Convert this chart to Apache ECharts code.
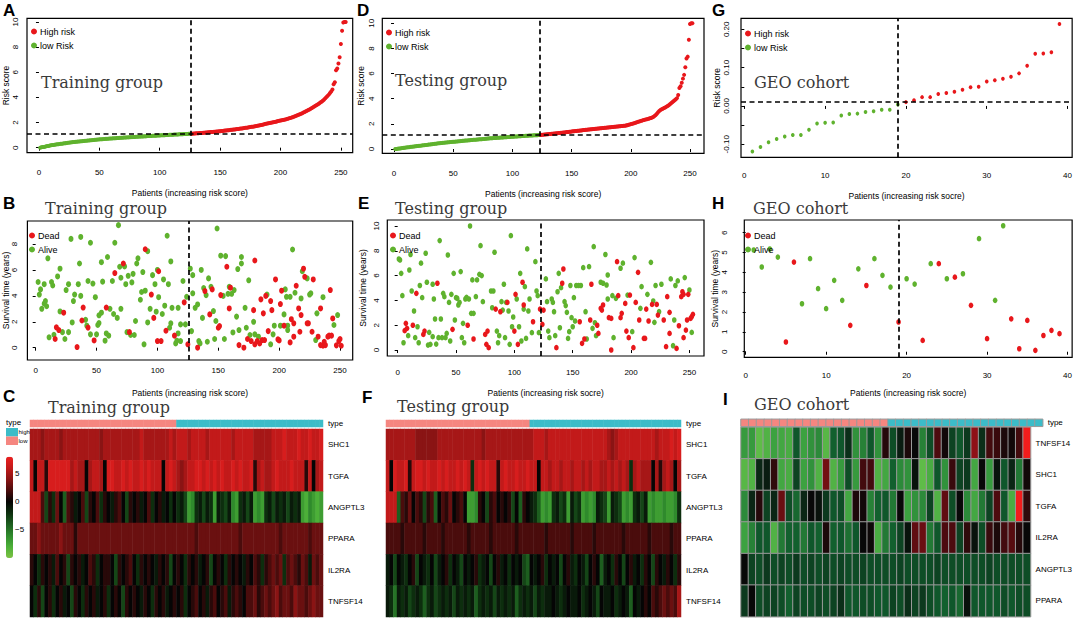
<!DOCTYPE html>
<html>
<head>
<meta charset="utf-8">
<title>Risk score, survival and expression heatmaps</title>
<script src="https://cdn.jsdelivr.net/npm/echarts@6/dist/echarts.min.js"></script>
<style>
html, body { margin: 0; padding: 0; background: #fff; }
#main { width: 1075px; height: 619px; }
</style>
</head>
<body>
<div id="main"></div>
<script>
// risk scores, sorted (training 254 pts, testing 252 pts, GEO 39 pts)
var trainRisk = [
    0.00,0.03,0.05,0.06,0.08,0.11,0.13,0.14,0.17,0.19,
    0.21,0.22,0.24,0.25,0.27,0.28,0.30,0.31,0.32,0.34,
    0.35,0.36,0.37,0.39,0.40,0.41,0.43,0.44,0.45,0.46,
    0.47,0.48,0.49,0.50,0.51,0.52,0.53,0.54,0.55,0.56,
    0.57,0.58,0.59,0.60,0.61,0.62,0.63,0.64,0.65,0.66,
    0.67,0.67,0.68,0.69,0.70,0.70,0.71,0.72,0.73,0.73,
    0.74,0.75,0.75,0.76,0.77,0.77,0.78,0.79,0.79,0.80,
    0.81,0.81,0.82,0.82,0.83,0.84,0.84,0.85,0.85,0.86,
    0.87,0.87,0.88,0.88,0.89,0.89,0.90,0.90,0.91,0.92,
    0.92,0.93,0.93,0.94,0.94,0.95,0.95,0.96,0.97,0.97,
    0.98,0.98,0.99,0.99,1.00,1.01,1.01,1.02,1.02,1.03,
    1.03,1.04,1.04,1.05,1.05,1.06,1.06,1.07,1.07,1.08,
    1.08,1.09,1.09,1.10,1.10,1.11,1.11,
    1.12,1.13,1.14,1.14,1.15,1.16,1.17,1.17,1.18,1.19,
    1.20,1.21,1.22,1.23,1.24,1.25,1.25,1.26,1.27,1.28,
    1.29,1.30,1.31,1.32,1.33,1.35,1.36,1.37,1.38,1.39,
    1.40,1.42,1.43,1.44,1.45,1.47,1.48,1.49,1.51,1.52,
    1.53,1.55,1.56,1.58,1.59,1.61,1.62,1.64,1.66,1.67,
    1.69,1.71,1.73,1.75,1.77,1.79,1.81,1.83,1.85,1.88,
    1.90,1.92,1.94,1.96,1.98,2.00,2.02,2.04,2.07,2.09,
    2.12,2.14,2.16,2.18,2.20,2.22,2.24,2.27,2.30,2.33,
    2.36,2.39,2.42,2.46,2.50,2.54,2.58,2.62,2.66,2.70,
    2.74,2.79,2.84,2.89,2.94,2.99,3.04,3.10,3.16,3.22,
    3.28,3.34,3.40,3.46,3.52,3.59,3.66,3.74,3.82,3.92,
    4.02,4.12,4.22,4.34,4.46,4.62,5.05,5.20,6.15,6.30,
    6.70,7.20,8.25,9.30,9.95,10.0,10.0
];
var trainLow = 126;
var trainCut = 1.08;

var testRisk = [
    0.00,0.01,0.03,0.04,0.05,0.07,0.08,0.09,0.10,0.12,
    0.13,0.14,0.15,0.17,0.18,0.19,0.20,0.22,0.23,0.24,
    0.25,0.26,0.27,0.29,0.30,0.31,0.32,0.33,0.35,0.36,
    0.37,0.38,0.40,0.41,0.42,0.43,0.45,0.46,0.47,0.48,
    0.49,0.50,0.51,0.52,0.53,0.54,0.55,0.56,0.57,0.58,
    0.58,0.59,0.60,0.61,0.62,0.63,0.64,0.65,0.66,0.67,
    0.68,0.68,0.69,0.70,0.71,0.72,0.73,0.73,0.74,0.75,
    0.76,0.77,0.78,0.78,0.79,0.80,0.81,0.82,0.83,0.84,
    0.85,0.85,0.86,0.87,0.87,0.88,0.89,0.89,0.90,0.91,
    0.91,0.92,0.93,0.93,0.94,0.95,0.96,0.96,0.97,0.98,
    0.98,0.99,1.00,1.00,1.01,1.02,1.02,1.03,1.04,1.04,
    1.05,1.05,1.06,1.07,1.07,1.08,1.08,1.09,1.09,1.10,
    1.10,1.11,1.11,
    1.12,1.13,1.14,1.15,1.16,1.17,1.18,1.19,1.20,1.21,
    1.22,1.23,1.24,1.25,1.26,1.27,1.28,1.29,1.30,1.31,
    1.32,1.34,1.35,1.36,1.37,1.38,1.40,1.41,1.42,1.43,
    1.44,1.45,1.46,1.47,1.48,1.49,1.51,1.52,1.53,1.54,
    1.55,1.56,1.57,1.58,1.59,1.60,1.61,1.62,1.63,1.64,
    1.65,1.66,1.67,1.68,1.69,1.70,1.71,1.72,1.73,1.74,
    1.75,1.76,1.77,1.78,1.79,1.80,1.81,1.82,1.83,1.84,
    1.85,1.86,1.88,1.90,1.92,1.95,1.98,2.00,2.03,2.06,
    2.09,2.13,2.16,2.19,2.22,2.25,2.28,2.31,2.34,2.36,
    2.38,2.41,2.44,2.47,2.50,2.55,2.62,2.70,2.80,2.92,
    3.02,3.10,3.16,3.21,3.26,3.31,3.36,3.42,3.48,3.56,
    3.64,3.72,3.80,3.88,3.96,4.05,4.30,4.85,5.00,5.28,
    5.60,5.90,6.50,7.20,7.35,8.70,9.95,10.0,10.0
];
var testLow = 123;
var testCut = 1.11;

var geoRisk = [
    -0.119,-0.107,-0.095,-0.086,-0.080,-0.076,-0.076,-0.062,-0.046,-0.044,
    -0.043,-0.025,-0.021,-0.020,-0.016,-0.014,-0.010,-0.010,0.004,0.010,
    0.015,0.023,0.023,0.031,0.034,0.037,0.042,0.049,0.050,0.064,
    0.067,0.071,0.076,0.085,0.105,0.136,0.137,0.140,0.214
];
var geoLow = 19;
var geoCut = 0.01;

// survival time (years) as [patient rank, time]
var trainDead = [[16,0.67],[17,1.57],[19,1.36],[23,2.7],[34,0.05],[38,2.1],[39,3.1],[43,1.55],[48,0.56],[58,3.1],[65,5.76],[72,6.5],[77,1.2],[90,7.6],[95,4.1],[97,2.3],[100,0.51],[101,5.9],[103,0.51],[107,1.31],[114,0.93],[122,3.5],[125,0.26],[133,0.0],[139,4.37],[143,2.57],[145,4.5],[150,1.54],[151,1.67],[152,4.06],[157,6.25],[159,3.03],[160,4.63],[167,0.2],[171,0.0],[174,0.67],[177,0.51],[179,2.9],[180,0.26],[180,6.73],[182,0.51],[184,0.33],[185,3.73],[186,0.59],[187,2.65],[188,0.59],[189,4.0],[191,1.28],[193,3.6],[194,2.9],[197,5.27],[199,0.64],[200,0.56],[201,3.37],[202,4.4],[204,1.7],[209,0.41],[210,2.2],[212,1.88],[212,0.85],[214,4.78],[216,3.03],[217,1.23],[218,2.52],[220,6.1],[221,5.47],[223,1.88],[224,1.88],[227,1.23],[228,5.27],[232,0.85],[234,3.03],[234,0.2],[236,0.15],[237,0.46],[238,0.2],[240,0.85],[241,0.93],[242,4.45],[243,0.93],[244,2.26],[247,0.18],[249,0.51],[250,0.67],[251,0.15]];
var trainAlive = [[2,5.07],[3,4.1],[4,4.5],[5,3.0],[7,4.9],[7,3.4],[8,3.6],[9,3.2],[10,6.9],[11,0.8],[13,5.07],[14,4.8],[15,1.0],[18,5.5],[20,6.1],[20,2.8],[22,1.2],[24,0.67],[25,4.45],[27,4.9],[27,1.2],[29,8.4],[30,1.95],[31,3.6],[32,4.1],[35,4.9],[36,6.5],[37,8.55],[37,4.0],[41,2.15],[42,1.7],[43,5.15],[45,8.1],[45,1.03],[47,4.95],[49,3.9],[50,1.03],[51,1.75],[52,1.9],[52,2.5],[54,2.7],[54,6.6],[55,5.1],[57,0.54],[58,1.1],[59,7.0],[60,0.93],[61,3.0],[63,5.15],[64,2.6],[65,8.1],[67,2.3],[68,9.46],[69,6.25],[70,5.4],[70,3.0],[73,6.27],[74,4.9],[75,1.2],[76,5.55],[78,0.98],[79,5.04],[80,5.7],[81,0.98],[82,2.06],[83,6.5],[84,6.9],[86,3.7],[87,4.3],[88,5.84],[89,0.26],[90,4.4],[92,7.45],[92,1.95],[94,3.0],[96,5.6],[98,4.9],[99,2.78],[100,6.0],[101,3.9],[104,2.6],[105,5.27],[106,3.24],[108,8.64],[109,4.9],[110,1.54],[111,1.88],[111,6.66],[112,3.08],[115,0.33],[116,0.54],[117,3.08],[117,1.1],[119,1.8],[119,0.51],[121,5.15],[123,1.8],[124,3.93],[127,6.1],[128,1.28],[129,4.2],[129,5.6],[131,3.08],[133,3.34],[134,0.51],[135,0.33],[136,6.0],[137,2.3],[138,4.6],[140,4.06],[141,0.46],[142,5.35],[144,4.7],[146,2.83],[147,0.67],[148,2.06],[149,9.2],[152,7.1],[154,4.0],[155,0.67],[156,7.07],[158,4.16],[159,4.7],[161,4.16],[162,1.18],[163,4.45],[165,2.4],[166,6.07],[167,1.36],[169,7.0],[169,6.5],[172,3.08],[173,1.54],[175,5.2],[176,0.98],[179,2.0],[180,1.03],[183,0.85],[190,4.1],[193,0.26],[195,1.03],[196,1.7],[201,1.7],[204,2.57],[205,4.5],[206,3.93],[207,1.7],[207,1.36],[209,3.93],[211,7.58],[213,4.24],[218,3.8],[219,5.9],[223,5.35],[225,4.1],[226,4.2],[230,0.59],[231,2.65],[236,3.9],[245,1.75],[248,2.52]];

var testDead = [[6,1.56],[7,2.15],[8,1.75],[13,2.0],[16,4.57],[22,1.26],[23,1.53],[34,5.38],[47,1.67],[60,2.0],[65,0.89],[75,1.26],[76,0.46],[77,1.53],[78,0.19],[84,3.3],[88,3.09],[94,3.84],[100,1.53],[101,4.49],[103,0.46],[107,5.46],[108,3.63],[116,2.28],[122,3.3],[124,2.07],[125,3.22],[136,0.19],[141,5.38],[142,6.53],[156,2.28],[158,0.54],[160,0.89],[165,2.42],[166,5.3],[171,2.0],[172,1.34],[174,3.36],[175,3.22],[176,3.63],[181,2.61],[183,0.0],[183,2.55],[188,7.12],[189,4.38],[191,2.61],[192,2.96],[195,3.76],[196,1.53],[198,1.0],[199,4.43],[202,0.19],[204,3.84],[206,6.26],[207,2.42],[211,0.94],[212,0.94],[213,3.3],[215,2.34],[218,3.68],[222,3.68],[223,2.82],[228,2.42],[230,0.27],[231,4.3],[233,1.34],[233,3.04],[239,0.13],[241,1.96],[243,4.3],[244,4.7],[245,4.49],[245,1.0],[247,1.61],[248,2.42],[249,4.49],[251,2.55],[252,2.69],[253,2.88]];
var testAlive = [[1,7.34],[2,7.26],[3,6.18],[4,4.38],[5,0.59],[9,1.16],[10,6.45],[11,7.7],[12,4.76],[14,3.15],[15,1.0],[17,1.88],[18,0.59],[19,5.2],[20,7.0],[21,4.22],[24,7.8],[25,5.46],[26,0.4],[27,1.42],[28,0.46],[30,5.3],[30,1.08],[31,4.11],[32,2.5],[33,0.48],[35,1.0],[36,8.82],[37,2.5],[38,1.0],[39,4.57],[40,4.3],[41,1.0],[42,1.34],[43,7.66],[44,3.84],[45,0.73],[46,4.49],[48,6.18],[49,2.42],[50,4.22],[51,4.17],[52,3.63],[53,3.84],[54,6.32],[55,1.0],[56,2.15],[57,0.59],[58,4.11],[59,4.25],[61,4.11],[62,10.0],[63,2.96],[64,5.65],[65,2.96],[67,4.3],[68,5.65],[70,6.1],[71,8.41],[72,6.0],[73,3.9],[80,4.76],[81,3.41],[82,4.76],[83,7.88],[85,1.53],[86,0.59],[87,1.16],[89,3.9],[90,3.22],[91,5.3],[92,1.0],[93,3.84],[95,3.15],[96,0.46],[97,9.22],[98,1.88],[99,2.66],[102,4.11],[104,1.88],[105,6.18],[106,0.73],[108,3.3],[109,5.11],[110,0.94],[111,8.15],[112,3.15],[113,4.11],[115,1.4],[118,7.12],[119,4.76],[120,4.38],[121,1.4],[127,5.73],[128,3.9],[129,1.53],[130,1.0],[132,4.11],[133,3.84],[134,3.09],[135,1.16],[137,4.7],[138,6.18],[139,1.8],[140,5.03],[143,3.9],[144,3.58],[145,3.04],[146,0.94],[147,1.48],[148,5.2],[149,2.61],[150,1.88],[151,4.22],[152,2.34],[153,5.2],[155,5.2],[157,5.2],[159,6.64],[161,3.09],[162,0.89],[164,6.72],[167,1.75],[168,8.33],[169,2.2],[170,1.16],[174,5.46],[176,5.38],[178,7.7],[179,5.24],[180,4.11],[180,6.05],[184,4.38],[185,1.0],[187,4.17],[191,6.59],[193,7.0],[197,4.43],[201,1.48],[203,7.45],[208,3.36],[209,5.11],[214,4.49],[217,7.07],[219,3.95],[220,2.23],[221,5.2],[224,3.09],[226,5.3],[234,5.73],[236,0.35],[237,2.42],[238,5.2],[240,5.57],[246,5.84],[250,4.84],[252,1.42]];

var geoTime = [5.13,4.27,5.18,4.77,0.49,4.52,2.42,4.69,3.18,2.17,3.60,2.59,1.33,4.18,3.34,4.69,3.85,3.26,1.50,3.68,3.41,0.57,4.44,4.44,3.68,3.76,3.93,2.34,5.70,0.66,2.59,6.35,1.66,0.15,1.58,0.07,0.82,1.08,0.91];
var geoStatus = [0,0,0,0,1,1,0,0,0,0,0,0,1,0,1,0,0,0,1,0,0,1,0,1,0,1,0,1,0,1,0,0,1,1,1,1,1,1,1];

// expression, 80 column groups of patients (training / testing)
var trainGenes = ['SHC1', 'TGFA', 'ANGPTL3', 'PPARA', 'IL2RA', 'TNFSF14'];
var trainSHC1 = [5,5,5,4,5,5,5,5,4,5, 5,5,5,5,5,5,5,5,5,4, 5,5,5,5,5,5,5,5,5,5, 6,5,5,5,5,5,5,5,6,5, 6,6,6,5,6,6,6,6,5,6, 6,6,6,6,6,5,6,6,6,6, 6,5,5,5,5,5,6,6,6,7, 6,6,6,7,6,6,7,6,6,7];
var trainTGFA = [6,0,6,6,1,7,7,7,7,7, 7,5,6,5,5,0,5,6,6,5, 0,7,7,6,6,7,6,7,6,6, 7,6,7,6,6,6,0,6,7,6, 5,4,5,6,6,7,7,6,7,6, 7,6,7,6,6,7,6,7,6,6, 7,1,5,6,5,5,6,7,6,6, 6,7,6,6,6,1,6,0,5,6];
var trainANGPTL3 = [6,6,6,2,-3,1,-2,3,0,-4, 2,1,-1,0,2,-3,1,0,2,-2, 1,0,-1,1,2,0,-3,1,0,1, -1,0,2,-2,0,1,-1,0,-2,0, -2,-1,-3,-7,-6,-2,-1,-3,-1,-2, -7,-1,-2,-3,-1,-6,-7,-2,-1,-3, -1,-7,-6,-7,-2,-1,-3,-1,-2,-1, -3,-1,-2,-1,-7,-8,-6,-7,-8,-7];
var trainPPARA = [3,3,4,3,3,3,3,3,4,3, 3,3,1,3,3,3,3,3,3,3, 3,3,3,3,3,3,3,3,3,3, 3,3,3,3,3,3,3,3,3,3, 3,3,3,3,3,2,3,3,3,3, 3,3,3,3,3,3,3,2,3,3, 3,3,3,3,3,3,3,3,2,3, 3,3,3,3,3,3,2,3,3,3];
var trainIL2RA = [1,0,-2,1,0,1,-1,2,0,1, -3,1,0,1,-1,0,2,1,-2,0, 1,1,0,-3,1,0,1,2,0,-2, 1,0,1,0,-1,1,0,1,-3,0, 1,0,-2,1,0,1,-1,0,1,-3, 0,1,0,-2,1,0,1,0,-1,1, 0,2,1,-2,1,2,3,2,3,-2, 2,3,2,1,3,2,-1,3,2,3];
var trainTNFSF14 = [0,-2,1,-3,0,1,-2,0,1,-1, 0,-3,1,0,-2,1,0,1,-1,0, 1,-2,0,1,0,-3,1,0,1,0, -1,1,0,-2,1,0,1,-1,0,1, 0,1,-2,0,1,2,0,1,-1,1, 2,0,1,2,-1,1,2,1,0,2, 2,3,1,2,3,2,3,4,2,3, 3,2,4,3,3,2,3,4,3,3];

var testSHC1 = [5,5,5,5,5,5,5,5,4,4, 4,4,4,4,5,5,5,5,5,5, 5,5,5,5,5,5,4,5,5,5, 5,5,5,5,5,5,5,5,5,5, 6,6,6,5,6,6,6,6,6,6, 6,6,6,6,6,6,6,6,6,6, 5,4,5,6,6,6,6,6,6,6, 6,6,6,5,6,6,6,7,6,7];
var testTGFA = [6,0,7,6,6,7,1,6,7,7, 6,7,6,6,7,6,7,6,6,7, 6,7,6,-2,6,7,6,7,6,6, 1,6,7,6,6,7,6,6,7,6, 6,0,6,6,5,6,6,5,6,6, 5,6,6,5,6,5,6,6,5,5, 6,5,6,5,6,5,-2,5,6,5, 5,5,0,5,1,5,6,5,0,5];
var testANGPTL3 = [6,6,6,-4,2,1,3,0,2,1, -3,1,2,-4,0,2,1,3,0,1, 2,0,-7,-7,-6,1,0,-3,1,2, 0,1,0,1,-3,0,-4,1,0,-1, -2,-4,-7,-6,-7,-2,-1,-3,-2,-7, -1,-3,-2,-7,-6,-7,-6,-1,-2,-3, -7,-1,-2,-3,-7,-6,-7,-2,-1,-3, -1,-7,-6,-7,-7,-6,-7,-7,-6,-2];
var testPPARA = [2,2,2,2,1,2,2,2,2,2, 1,2,2,2,2,1,2,2,2,2, 2,2,1,2,2,2,2,2,1,2, 2,2,2,2,2,1,2,2,2,2, 2,2,2,1,2,2,2,2,2,2, 1,2,2,2,2,2,1,2,2,2, 2,2,2,2,1,2,2,2,2,2, 2,1,2,2,2,2,2,1,2,2];
var testIL2RA = [-1,0,-3,0,-1,-2,0,1,-3,0, -1,-2,0,-3,-1,0,1,-2,0,-1, -3,0,-1,0,1,-2,-1,0,-3,0, 1,-1,0,-2,0,-1,0,-3,-4,0, -1,0,1,-2,0,-1,0,-3,0,1, -1,-2,0,-1,-3,0,1,0,-4,-1, 0,-2,1,0,-3,0,1,-1,0,-2, 1,0,-3,1,0,-1,1,0,-2,1];
var testTNFSF14 = [-1,-2,-5,-1,-2,-1,-3,-2,-1,-2, -4,-2,-1,-3,-2,-1,-2,-1,-3,-1, -2,-1,-2,-1,-4,-2,-1,-2,-1,-3, -1,-2,-1,-2,-1,-4,-2,-1,-2,-1, -3,-1,-2,-1,-1,0,-1,-2,-1,0, -1,-1,0,-2,-1,0,-1,-3,0,-1, -1,0,-2,-1,0,-1,-4,0,-1,0, 1,0,2,1,2,3,2,3,2,5];

// GEO expression, one column per patient
var geoGenes = ['TNFSF14', 'SHC1', 'TGFA', 'IL2RA', 'ANGPTL3', 'PPARA'];
var geoTNFSF14 = [-1.6,-1.6,-2.2,-2.0,-1.7,-1.8,-1.9,-0.8,-1.7,-1.5,-1.4,-2.1,-0.9,-0.8,-0.4,-1.5,-1.3,-0.8,-1.5,0.3,-0.7,-0.2,0.2,0,-1.3,-0.7,0.7,0.1,-0.6,-0.8,-0.5,1.4,-0.4,0.6,0.5,0.2,0.1,0.6,2.6];
var geoSHC1 = [-2.1,-2.0,-0.3,-0.2,0.4,-1.8,-1.9,-0.6,-1.7,-1.5,-2.0,1.1,-2.0,-1.6,-0.7,-1.6,0.6,0.6,-2.0,-1.8,-0.9,-1.4,-1.5,-0.1,-2.2,-1.9,-0.8,-1.5,0.5,-0.6,-0.5,-1.8,0,-1.6,-0.1,-0.8,-0.3,-1.2,0.1];
var geoTGFA = [-1.4,-0.3,0.3,-0.6,-0.3,1.0,-0.7,-1.0,-0.3,0,-0.1,-0.5,-0.8,-0.7,-1.8,0.2,0.1,-1.3,-0.9,-0.8,-1.2,0,-1.7,-1.5,-1.4,-0.6,-2.0,0.9,-0.7,0,-1.4,-1.8,-1.2,-0.6,0.7,-0.8,-1.9,2.6,0.4];
var geoIL2RA = [-1.7,-1.3,-0.8,-0.8,-2.0,-1.2,-0.9,-0.9,-1.2,-0.8,-0.9,0.2,-0.9,-0.8,-1.1,-0.8,0,0.05,-1.9,-1.2,-0.9,-0.6,-0.1,0.9,1.0,-1.2,-0.8,0.7,0.7,-0.6,0.4,-0.1,-0.7,0.5,0.2,0.6,0.8,0.3,0];
var geoANGPTL3 = [0,-0.6,-0.7,-0.5,-0.7,-0.6,-0.7,-0.5,-0.7,-0.6,-0.7,-0.6,-0.7,-0.6,-0.7,-0.7,-0.6,-0.7,-0.7,-0.7,-0.7,-0.6,-0.7,-0.7,-0.7,-0.7,-0.6,-0.7,-0.7,-0.7,-0.7,-0.7,-0.7,-0.6,-0.7,-0.7,-0.7,-0.7,-0.7];
var geoPPARA = [-0.5,0,-0.7,-0.6,-0.6,-0.7,-0.9,-0.6,-0.7,-0.7,-0.6,-0.7,-0.6,-0.4,-0.8,-0.8,-0.7,-0.7,-0.8,-0.8,-0.6,-0.7,-0.4,-0.6,-0.5,-0.7,-0.8,-0.9,-0.8,-1.0,-0.1,-0.8,-0.8,-0.8,-0.8,-0.7,-0.8,-0.7,-0.7];

// tick labels
var xTicks250 = [0, 50, 100, 150, 200, 250];
var riskTicks = [0, 2, 4, 6, 8, 10];
var survTicksTrain = [0, 2, 4, 6, 8];
var survTicksTest = [0, 2, 4, 6, 8, 10];
var geoXTicks = [0, 10, 20, 30, 40];
var geoRiskTicks = [-0.1, -0.05, 0, 0.05, 0.1, 0.15, 0.2];
var geoRiskLabels = [-0.1, 0, 0.1, 0.2];
var geoSurvTicks = [0, 1, 2, 3, 4, 5, 6];
var colorTicks = [5, 0, -5];

var RED = '#e8171b', GREEN = '#5fb22e';
var PINK = '#f58680', CYAN = '#3cbcc8';
var narrow = '"Liberation Sans Narrow", "Arial Narrow", "Liberation Sans", sans-serif';
var serif = '"DejaVu Serif", "Liberation Serif", serif';

var grids = [], xAxes = [], yAxes = [], series = [], legends = [], graphics = [];
var exprSeries = [], geoSeries = [], typeSeries = [];

function plotPanel(box, xr, yr, xt, yt, yl, xName, yName, lay) {
    var gi = grids.length;
    grids.push({left: box[0], top: box[1], width: box[2] - box[0], height: box[3] - box[1],
        show: true, borderColor: '#000', borderWidth: 1.2});
    xAxes.push({gridIndex: gi, type: 'value', min: xr[0], max: xr[1],
        splitLine: {show: false}, axisLine: {show: false},
        axisTick: {show: true, length: 3, customValues: xt, lineStyle: {color: '#000'}},
        axisLabel: {customValues: xt, margin: lay.xm, fontSize: 8, color: '#000', fontFamily: narrow},
        name: xName, nameLocation: 'middle', nameGap: lay.xg,
        nameTextStyle: {fontSize: 8.5, color: '#000', fontFamily: narrow}});
    yAxes.push({gridIndex: gi, type: 'value', min: yr[0], max: yr[1],
        splitLine: {show: false}, axisLine: {show: false},
        axisTick: {show: true, length: 3, customValues: yt, lineStyle: {color: '#000'}},
        axisLabel: {customValues: yl, rotate: 90, margin: lay.ym, fontSize: 8, color: '#000',
            fontFamily: narrow, formatter: lay.fmt},
        name: yName, nameLocation: 'middle', nameRotate: 90, nameGap: lay.yg,
        nameTextStyle: {fontSize: 8.5, color: '#000', fontFamily: narrow}});
    return gi;
}

function dashLine(data) {
    return {silent: true, symbol: 'none', label: {show: false},
        lineStyle: {color: '#000', type: [5, 3.5], width: 1.7}, data: data};
}

function riskSeries(gi, risk, lowN, cut, size) {
    var low = [], high = [];
    for (var i = 0; i < risk.length; i++) {
        if (i < lowN) low.push([i + 1, risk[i]]);
        else high.push([i + 1, risk[i]]);
    }
    series.push({type: 'scatter', name: 'low Risk', xAxisIndex: gi, yAxisIndex: gi, data: low,
        symbolSize: size, itemStyle: {color: GREEN, opacity: 1}, silent: true});
    series.push({type: 'scatter', name: 'High risk', xAxisIndex: gi, yAxisIndex: gi, data: high,
        symbolSize: size, itemStyle: {color: RED, opacity: 1}, silent: true,
        markLine: dashLine([{xAxis: lowN}, {yAxis: cut}])});
}

function survSeries(gi, dead, alive, lowN, size) {
    series.push({type: 'scatter', name: 'Alive', xAxisIndex: gi, yAxisIndex: gi, data: alive,
        symbolSize: size, itemStyle: {color: GREEN, opacity: 1}, silent: true});
    series.push({type: 'scatter', name: 'Dead', xAxisIndex: gi, yAxisIndex: gi, data: dead,
        symbolSize: size, itemStyle: {color: RED, opacity: 1}, silent: true,
        markLine: dashLine([{xAxis: lowN}])});
}

function addLegend(names, left, top) {
    legends.push({data: names, left: left, top: top, orient: 'vertical', icon: 'circle',
        itemWidth: 6, itemHeight: 6, itemGap: 5, padding: 0, selectedMode: false,
        textStyle: {fontSize: 9, color: '#000', fontFamily: narrow, padding: [0, 0, 0, -2]}});
}

function heatPanel(box, typeTop, typeH, genes, rows, lowCols, cell, target) {
    var nCol = rows[0].length;
    var cols = [];
    for (var c = 0; c < nCol; c++) cols.push(c);
    var rightLabel = {margin: 5, fontSize: 8, color: '#000', fontFamily: narrow};

    var gt = grids.length;
    grids.push({left: box[0], top: typeTop, width: box[2] - box[0], height: typeH});
    xAxes.push({gridIndex: gt, type: 'category', data: cols, show: false});
    yAxes.push({gridIndex: gt, type: 'category', data: ['type'], position: 'right',
        axisLine: {show: false}, axisTick: {show: false}, axisLabel: rightLabel});
    var typeData = [];
    for (c = 0; c < nCol; c++) typeData.push([c, 0, c < lowCols ? 0 : 1]);
    typeSeries.push(series.length);
    series.push({type: 'heatmap', xAxisIndex: gt, yAxisIndex: gt, data: typeData,
        itemStyle: cell, silent: true});

    var gh = grids.length;
    grids.push({left: box[0], top: box[1], width: box[2] - box[0], height: box[3] - box[1]});
    xAxes.push({gridIndex: gh, type: 'category', data: cols, show: false});
    yAxes.push({gridIndex: gh, type: 'category', data: genes, inverse: true, position: 'right',
        axisLine: {show: false}, axisTick: {show: false}, axisLabel: rightLabel});
    var cells = [];
    for (var g = 0; g < genes.length; g++) {
        for (c = 0; c < nCol; c++) cells.push([c, g, rows[g][c]]);
    }
    target.push(series.length);
    series.push({type: 'heatmap', xAxisIndex: gh, yAxisIndex: gh, data: cells,
        itemStyle: cell, silent: true});
}

function addText(text, left, top, size, bold, family, fill) {
    graphics.push({type: 'text', left: left, top: top, silent: true, z: 10,
        style: {text: text, fontSize: size, fontWeight: bold ? 'bold' : 'normal',
            fontFamily: family, fill: fill}});
}

var patientsName = 'Patients (increasing risk score)';
var patientsName2 = 'Patients (increasing risk socre)';

// A
var gA = plotPanel([26.7, 18.3, 352.7, 152.7], [-9.9, 259.8], [-0.4, 10.29], xTicks250, riskTicks, riskTicks,
    patientsName, 'Risk score', {xm: 16, xg: 36, ym: 7.5, yg: 17});
riskSeries(gA, trainRisk, trainLow, trainCut, 4);
addLegend(['High risk', 'low Risk'], 31, 27);

// B
var gB = plotPanel([26.7, 221, 352.7, 360], [-6.8, 260.4], [-0.95, 9.78], xTicks250, survTicksTrain, survTicksTrain,
    patientsName, 'Survival time (years)', {xm: 6, xg: 28.5, ym: 8.5, yg: 17});
survSeries(gB, trainDead, trainAlive, trainLow, [5, 6]);
addLegend(['Dead', 'Alive'], 29, 231);

// D
var gD = plotPanel([382.3, 18.3, 704, 153.3], [-9.9, 261.8], [-0.34, 10.4], xTicks250, riskTicks, riskTicks,
    patientsName, 'Risk score', {xm: 15.7, xg: 36.5, ym: 7.3, yg: 17});
riskSeries(gD, testRisk, testLow, testCut, 4);
addLegend(['High risk', 'low Risk'], 386, 28);

// E
var gE = plotPanel([387.3, 220, 704, 356], [-8.9, 262.5], [-0.48, 10.48], xTicks250, survTicksTest, survTicksTest,
    patientsName2, 'Survival time (years)', {xm: 12, xg: 32.5, ym: 6.6, yg: 19.5});
survSeries(gE, testDead, testAlive, testLow, [4.6, 5.6]);
addLegend(['Dead', 'Alive'], 390, 231);

// G
var gG = plotPanel([741, 18.3, 1072.3, 157.3], [-0.41, 40.57], [-0.134, 0.2287], geoXTicks, geoRiskTicks, geoRiskLabels,
    patientsName2, 'Risk score', {xm: 14.4, xg: 34.5, ym: 11, yg: 14.5, fmt: function (v) { return v.toFixed(2); }});
riskSeries(gG, geoRisk, geoLow, geoCut, [3.6, 4]);
addLegend(['High risk', 'low Risk'], 745, 29);

// H
var gH = plotPanel([744.3, 220, 1072.3, 357.3], [-0.17, 40.57], [-0.28, 6.64], geoXTicks, geoSurvTicks, geoSurvTicks,
    patientsName2, 'Survival time (years)', {xm: 13.7, xg: 31, ym: 16, yg: 18});
var geoDead = [], geoAlive = [];
for (var k = 0; k < geoTime.length; k++) {
    if (geoStatus[k] === 1) geoDead.push([k + 1, geoTime[k]]);
    else geoAlive.push([k + 1, geoTime[k]]);
}
survSeries(gH, geoDead, geoAlive, geoLow, [4.6, 5.6]);
addLegend(['Dead', 'Alive'], 745, 231);

// C, F, I heatmaps
var plainCell = {borderWidth: 0};
var gridCell = {borderColor: '#9a9a9a', borderWidth: 1};
heatPanel([30, 429, 323, 617], 420, 7, trainGenes,
    [trainSHC1, trainTGFA, trainANGPTL3, trainPPARA, trainIL2RA, trainTNFSF14],
    Math.round(trainLow / trainRisk.length * trainSHC1.length), plainCell, exprSeries);
heatPanel([386, 429, 681, 617], 420, 7, trainGenes,
    [testSHC1, testTGFA, testANGPTL3, testPPARA, testIL2RA, testTNFSF14],
    Math.round(testLow / testRisk.length * testSHC1.length), plainCell, exprSeries);
heatPanel([741, 427.3, 1042.7, 616.7], 419.3, 7, geoGenes,
    [geoTNFSF14, geoSHC1, geoTGFA, geoIL2RA, geoANGPTL3, geoPPARA],
    geoLow, gridCell, geoSeries);

// colour key axis for C
var gK = grids.length;
grids.push({left: 6, top: 456.7, width: 7, height: 101.3});
xAxes.push({gridIndex: gK, type: 'value', min: 0, max: 1, show: false});
yAxes.push({gridIndex: gK, type: 'value', min: -10, max: 8, position: 'right',
    splitLine: {show: false}, axisLine: {show: false}, axisTick: {show: false},
    axisLabel: {customValues: colorTicks, margin: 2, fontSize: 8, color: '#000', fontFamily: narrow,
        formatter: function (v) { return v < 0 ? '\u2212' + (-v) : String(v); }}});

// panel letters and group titles
var letters = [['A', 3, 2], ['B', 3, 195], ['C', 3, 388], ['D', 357, 2], ['E', 358, 195],
    ['F', 362, 389], ['G', 712, 2], ['H', 712, 195], ['I', 723, 391]];
for (k = 0; k < letters.length; k++) addText(letters[k][0], letters[k][1], letters[k][2], 17, true, '"Liberation Sans", Arial, sans-serif', '#000');
var groups = [['Training group', 41, 74], ['Training group', 45, 200], ['Training group', 48, 399],
    ['Testing group', 395, 72], ['Testing group', 395, 200], ['Testing group', 397, 398],
    ['GEO cohort', 754, 74], ['GEO cohort', 753, 200], ['GEO cohort', 754, 396]];
for (k = 0; k < groups.length; k++) addText(groups[k][0], groups[k][1], groups[k][2], 16, false, serif, '#3a3a3a');
addText('type', 6, 418, 8, false, narrow, '#000');

var chart = echarts.init(document.getElementById('main'), null, {renderer: 'svg'});
chart.setOption({
    animation: false,
    backgroundColor: '#fff',
    textStyle: {fontFamily: narrow},
    grid: grids,
    xAxis: xAxes,
    yAxis: yAxes,
    legend: legends,
    visualMap: [
        {type: 'continuous', seriesIndex: exprSeries, min: -10, max: 8, calculable: false,
            left: 6, top: 456.7, itemWidth: 7, itemHeight: 101.3, padding: 0, text: null, hoverLink: false,
            inRange: {color: ['#7cc242', '#4cb038', '#2f8a2c', '#1d5e1f', '#0d2e0e', '#050505',
                '#4a0c0c', '#8a1414', '#c21a1a', '#ec2020']}},
        {type: 'continuous', seriesIndex: geoSeries, min: -2.5, max: 2.5, show: false,
            inRange: {color: ['#74cc4c', '#3aa040', '#0f5a2c', '#080808', '#5a0c10', '#a8141a', '#f21c1c']}},
        {type: 'piecewise', seriesIndex: typeSeries, left: 6, top: 428, orient: 'vertical', z: 10,
            itemWidth: 12, itemHeight: 8.5, itemGap: 0, padding: 0, textGap: 0.5, selectedMode: false,
            itemSymbol: 'rect', hoverLink: false,
            textStyle: {fontSize: 6, color: '#000', fontFamily: narrow},
            pieces: [{value: 1, label: 'high', color: CYAN}, {value: 0, label: 'low', color: PINK}]}
    ],
    graphic: graphics,
    series: series
});
</script>
</body>
</html>
